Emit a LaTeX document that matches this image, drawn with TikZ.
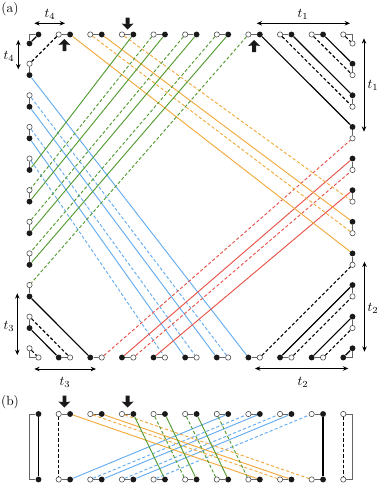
\documentclass[tikz,border=0pt]{standalone}
\usetikzlibrary{arrows.meta}
\definecolor{cor}{RGB}{242,170,60}
\definecolor{cgr}{RGB}{82,155,48}
\definecolor{cbl}{RGB}{100,172,240}
\definecolor{crd}{RGB}{232,82,72}
\begin{document}
\begin{tikzpicture}[x=0.75pt,y=-0.75pt,
  od/.style={circle,draw=black!70,fill=white,line width=0.45pt,inner sep=0pt,minimum size=4.0pt},
  fd/.style={circle,fill=black!90,inner sep=0pt,minimum size=4.4pt},
  pair/.style={draw=black!60,line width=0.6pt},
  dsh/.style={dash pattern=on 2.4pt off 1.6pt},
  bk/.style={draw=black,line width=0.85pt},
  orl/.style={draw=cor,line width=0.7pt},
  grl/.style={draw=cgr,line width=0.7pt},
  bll/.style={draw=cbl,line width=0.7pt},
  rdl/.style={draw=crd,line width=0.7pt},
  dimarrow/.style={line width=0.6pt,{Stealth[length=4pt,width=3.4pt]}-{Stealth[length=4pt,width=3.4pt]}},
  uparr/.pic={\fill[black!90] (0,0) -- (6,6) -- (1.9,5.4) -- (1.9,12) -- (-1.9,12) -- (-1.9,5.4) -- (-6,6) -- cycle;},
  dnarr/.pic={\fill[black!90] (0,0) -- (6,-6) -- (1.9,-5.4) -- (1.9,-12) -- (-1.9,-12) -- (-1.9,-5.4) -- (-6,-6) -- cycle;}
]
\useasboundingbox (0,0) rectangle (380,486);

% ---------- dots of panel (a) and (b) ----------
\foreach \k in {0,...,8}{
  \pgfmathsetmacro\sa{29.2+31.62*\k}
  \pgfmathsetmacro\sb{\sa+11.4}
  \node[od] (To\k) at ({29.5+\sa},34.5) {};
  \node[fd] (Tf\k) at ({29.5+\sb},34.5) {};
  \node[od] (Lo\k) at (29.5,{34.5+\sa}) {};
  \node[fd] (Lf\k) at (29.5,{34.5+\sb}) {};
  \node[fd] (Rf\k) at (352.5,{34.5+\sa}) {};
  \node[od] (Ro\k) at (352.5,{34.5+\sb}) {};
  \node[fd] (Bf\k) at ({29.5+\sa},357.5) {};
  \node[od] (Bo\k) at ({29.5+\sb},357.5) {};
  \node[od] (bTo\k) at ({29.5+\sa},414) {};
  \node[fd] (bTf\k) at ({29.5+\sb},414) {};
  \node[od] (bBo\k) at ({29.5+\sa},479.5) {};
  \node[fd] (bBf\k) at ({29.5+\sb},479.5) {};
  \draw[pair] (To\k) -- (Tf\k);
  \draw[pair] (Lo\k) -- (Lf\k);
  \draw[pair] (Rf\k) -- (Ro\k);
  \draw[pair] (Bf\k) -- (Bo\k);
  \draw[pair] (bTo\k) -- (bTf\k);
  \draw[pair] (bBo\k) -- (bBf\k);
}
% corner dots
\node[fd] (TfM) at (38.48,34.5) {};
\node[od] (To9) at (343.28,34.5) {};
\node[fd] (LfM) at (29.5,43.48) {};
\node[od] (Lo9) at (29.5,348.28) {};
\node[od] (RoM) at (352.5,43.48) {};
\node[fd] (Rf9) at (352.5,348.28) {};
\node[od] (BoM) at (38.48,357.5) {};
\node[fd] (Bf9) at (343.28,357.5) {};
\coordinate (cTL) at (29.5,34.5);
\coordinate (cTR) at (352.5,34.5);
\coordinate (cBL) at (29.5,357.5);
\coordinate (cBR) at (352.5,357.5);
\draw[pair] (TfM) -- (cTL) -- (LfM);
\draw[pair] (To9) -- (cTR) -- (RoM);
\draw[pair] (Lo9) -- (cBL) -- (BoM);
\draw[pair] (Bf9) -- (cBR) -- (Rf9);

% ---------- panel (a) connectors ----------
\foreach \a/\b in {TfM/LfM,Tf6/Rf2,Tf7/Rf1,Tf8/Rf0,Lf7/Bf1,Lf8/Bf0,Bf7/Rf7,Bf8/Rf8,Bf9/Rf9}
  \draw[bk] (\a) -- (\b);
\foreach \a/\b in {To0/Lo0,To7/Ro1,To8/Ro0,To9/RoM,Lo8/Bo0,Lo9/BoM,Bo6/Ro6,Bo7/Ro7,Bo8/Ro8}
  \draw[bk,dsh] (\a) -- (\b);
\foreach \a/\b in {Lf0/Bf6,Lf1/Bf5,Lf2/Bf4} \draw[bll] (\a) -- (\b);
\foreach \a/\b in {Lo1/Bo5,Lo2/Bo4,Lo3/Bo3} \draw[bll,dsh] (\a) -- (\b);
\foreach \a/\b in {Bf2/Rf3,Bf3/Rf4} \draw[rdl] (\a) -- (\b);
\foreach \a/\b in {Bo1/Ro2,Bo2/Ro3} \draw[rdl,dsh] (\a) -- (\b);
\foreach \a/\b in {Tf0/Rf6,Tf1/Rf5} \draw[orl] (\a) -- (\b);
\foreach \a/\b in {To1/Ro5,To2/Ro4} \draw[orl,dsh] (\a) -- (\b);
\foreach \a/\b in {Tf2/Lf3,Tf3/Lf4,Tf4/Lf5,Tf5/Lf6} \draw[grl] (\a) -- (\b);
\foreach \a/\b in {To3/Lo4,To4/Lo5,To5/Lo6,To6/Lo7} \draw[grl,dsh] (\a) -- (\b);

% ---------- panel (b) ----------
\node[fd] (bTfM) at (38.48,414) {};
\node[fd] (bBfM) at (38.48,479.5) {};
\node[od] (bTo9) at (343.28,414) {};
\node[od] (bBo9) at (343.28,479.5) {};
\coordinate (bl1) at (29.5,414);
\coordinate (bl2) at (29.5,479.5);
\coordinate (br1) at (352.5,414);
\coordinate (br2) at (352.5,479.5);
\draw[pair] (bTfM) -- (bl1) -- (bl2) -- (bBfM);
\draw[pair] (bTo9) -- (br1) -- (br2) -- (bBo9);
\draw[bk] (bTfM) -- (bBfM);
\draw[bk,dsh] (bTo9) -- (bBo9);
\draw[bk,dsh] (bTo0) -- (bBo0);
\draw[bk] (bTf8) -- (bBf8);
\foreach \a/\b in {bBf0/bTf5,bBf1/bTf6,bBf2/bTf7} \draw[bll] (\a) -- (\b);
\foreach \a/\b in {bBo1/bTo6,bBo2/bTo7,bBo3/bTo8} \draw[bll,dsh] (\a) -- (\b);
\foreach \a/\b in {bTf0/bBf6,bTf1/bBf7} \draw[orl] (\a) -- (\b);
\foreach \a/\b in {bTo1/bBo7,bTo2/bBo8} \draw[orl,dsh] (\a) -- (\b);
\foreach \a/\b in {bTf2/bBf3,bTf3/bBf4,bTf4/bBf5} \draw[grl] (\a) -- (\b);
\foreach \a/\b in {bTo3/bBo4,bTo4/bBo5,bTo5/bBo6} \draw[grl,dsh] (\a) -- (\b);

% ---------- big arrows ----------
\pic at (64.4,39) {uparr};
\pic at (127.6,29.5) {dnarr};
\pic at (254.1,40) {uparr};
\pic at (64.4,407.5) {dnarr};
\pic at (127.6,407.5) {dnarr};

% ---------- dimension arrows ----------
\coordinate (t4ha) at (34.3,23.3); \coordinate (t4hb) at (65,23.3);
\draw[dimarrow] (t4ha) -- (t4hb);
\node (lt4h) at (50,14) {$t_4$};
\coordinate (t4va) at (18.3,40); \coordinate (t4vb) at (18.3,69.3);
\draw[dimarrow] (t4va) -- (t4vb);
\node (lt4v) at (9,56) {$t_4$};
\coordinate (t1ha) at (256.7,23.3); \coordinate (t1hb) at (350,23.3);
\draw[dimarrow] (t1ha) -- (t1hb);
\node (lt1h) at (303,14) {$t_1$};
\coordinate (t1va) at (364,38.3); \coordinate (t1vb) at (364,131.7);
\draw[dimarrow] (t1va) -- (t1vb);
\node (lt1v) at (373,85) {$t_1$};
\coordinate (t2va) at (364.5,261.7); \coordinate (t2vb) at (364.5,351.7);
\draw[dimarrow] (t2va) -- (t2vb);
\node (lt2v) at (373,308) {$t_2$};
\coordinate (t2ha) at (255,368.5); \coordinate (t2hb) at (348.3,368.5);
\draw[dimarrow] (t2ha) -- (t2hb);
\node (lt2h) at (303,382) {$t_2$};
\coordinate (t3va) at (17.3,293.3); \coordinate (t3vb) at (17.3,355);
\draw[dimarrow] (t3va) -- (t3vb);
\node (lt3v) at (9,326) {$t_3$};
\coordinate (t3ha) at (34.3,369); \coordinate (t3hb) at (96,369);
\draw[dimarrow] (t3ha) -- (t3hb);
\node (lt3h) at (65,382) {$t_3$};

% ---------- panel labels ----------
\node (la) at (10,9) {(a)};
\node (lb) at (10,402) {(b)};
\end{tikzpicture}
\end{document}
